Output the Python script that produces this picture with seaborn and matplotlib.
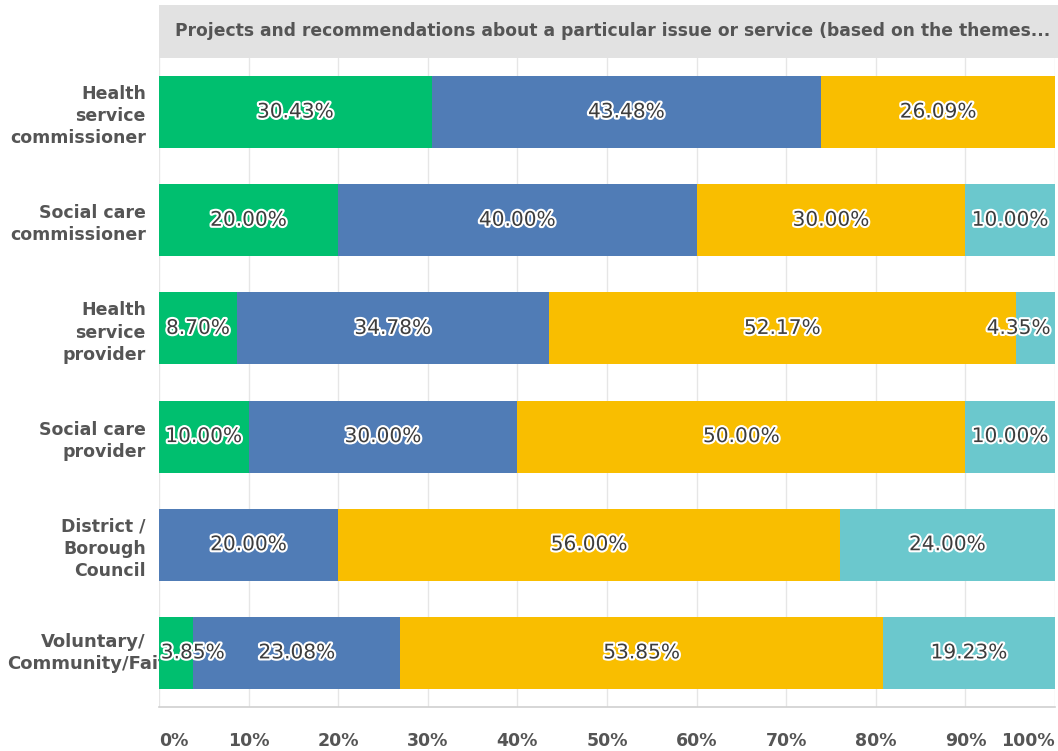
import numpy as np
import pandas as pd
import matplotlib
matplotlib.use("Agg")
import matplotlib.pyplot as plt
import matplotlib.patheffects as pe
from matplotlib.patches import Rectangle
import seaborn as sns

# Respondent groups (rows of the chart)
groups = [
    "Health\nservice\ncommissioner",
    "Social care\ncommissioner",
    "Health\nservice\nprovider",
    "Social care\nprovider",
    "District /\nBorough\nCouncil",
    "Voluntary/\nCommunity/Faith",
]

# Share of answers per response option (percent)
option_1 = [30.43, 20.00, 8.70, 10.00, 0.00, 3.85]
option_2 = [43.48, 40.00, 34.78, 30.00, 20.00, 23.08]
option_3 = [26.09, 30.00, 52.17, 50.00, 56.00, 53.85]
option_4 = [0.00, 10.00, 4.35, 10.00, 24.00, 19.23]

series = [option_1, option_2, option_3, option_4]
colors = ["#00BF6F", "#507CB6", "#F9BE00", "#6BC8CD"]

title = "Projects and recommendations about a particular issue or service (based on the themes..."
x_ticks = [0, 10, 20, 30, 40, 50, 60, 70, 80, 90, 100]
x_tick_labels = ["0%", "10%", "20%", "30%", "40%", "50%", "60%", "70%", "80%", "90%", "100%"]

sns.set_theme(style="whitegrid")
plt.rcParams["font.family"] = ["DejaVu Sans"]

W, H = 1058, 751
fig = plt.figure(figsize=(W / 100, H / 100), dpi=100)
ax = fig.add_axes([159 / W, (H - 707) / H, (1055 - 159) / W, (707 - 58) / H])

# Stacked bars: draw cumulative totals from the full width down to the first segment
vals = np.array(series)
cum = np.cumsum(vals, axis=0)
for k in range(len(series) - 1, -1, -1):
    df = pd.DataFrame({"group": groups, "value": cum[k]})
    sns.barplot(data=df, x="value", y="group", color=colors[k], width=0.667,
                saturation=1, orient="h", ax=ax, edgecolor="none", linewidth=0)

# Value labels, kept inside the plotting range
stroke = [pe.withStroke(linewidth=3, foreground="white")]
starts = cum - vals
half = 4.0
for k in range(len(series)):
    for i in range(len(groups)):
        v = vals[k, i]
        if v <= 0:
            continue
        xc = starts[k, i] + v / 2
        ha = "center"
        if xc - half < 0:
            xc, ha = 0.2, "left"
        elif xc + half > 100:
            xc, ha = 99.5, "right"
        ax.text(xc, i, f"{v:.2f}%", ha=ha, va="center", fontsize=14.5,
                color="#3d3d3d", path_effects=stroke, zorder=5)

ax.set_xlim(0, 100)
ax.set_xticks(x_ticks)
ax.set_xticklabels(x_tick_labels)
ax.set_xlabel("")
ax.set_ylabel("")
ax.set_axisbelow(True)
ax.grid(axis="x", color="#E6E6E6", linewidth=1)
ax.grid(axis="y", visible=False)
for s in ["top", "right", "left"]:
    ax.spines[s].set_visible(False)
ax.spines["bottom"].set_visible(True)
ax.spines["bottom"].set_color("#D0D0D0")
ax.spines["bottom"].set_linewidth(1.2)

ax.tick_params(axis="x", length=0, pad=18, labelsize=12.5, labelcolor="#555555")
ax.tick_params(axis="y", length=0, pad=9.5, labelsize=12.5, labelcolor="#555555")
for lbl in ax.get_xticklabels():
    lbl.set_fontweight("bold")
xl = ax.get_xticklabels()
xl[0].set_horizontalalignment("left")
xl[-1].set_horizontalalignment("right")

# Row labels; the last one is wider than the margin and runs under the bars
ylabels = list(groups)
ylabels[-1] = ""
ax.set_yticks(range(len(groups)))
ax.set_yticklabels(ylabels)
for lbl in ax.get_yticklabels():
    lbl.set_fontweight("bold")
    lbl.set_multialignment("right")
    lbl.set_linespacing(1.3)
ax.text((93 - 159) / 896, len(groups) - 1, groups[-1],
        transform=ax.get_yaxis_transform(), ha="center", va="center",
        multialignment="center", linespacing=1.3, fontsize=13,
        fontweight="bold", color="#555555", zorder=0.5, clip_on=False)

# Title band
fig.patches.append(Rectangle((159 / W, (H - 58) / H), (W - 159) / W, 53 / H,
                             transform=fig.transFigure, facecolor="#E2E2E2",
                             edgecolor="none", zorder=0))
fig.text(175 / W, (H - 31) / H, title, ha="left", va="center", fontsize=12.3,
         fontweight="bold", color="#555555")

fig.savefig("out.png", dpi=100)
